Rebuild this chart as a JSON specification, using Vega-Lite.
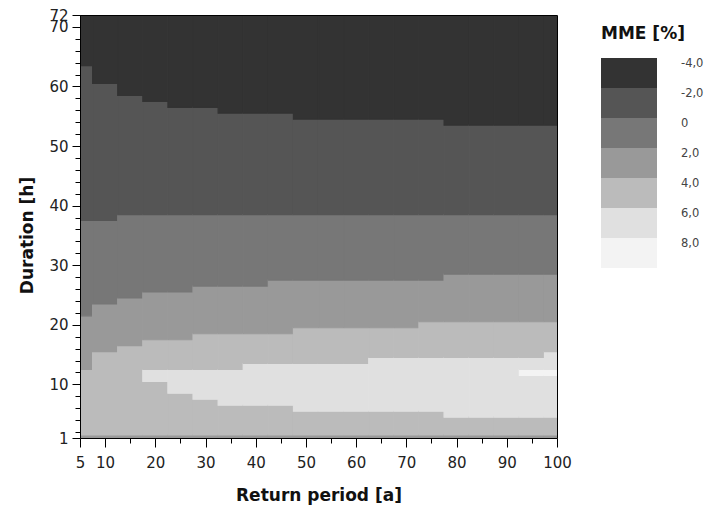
{
  "$schema": "https://vega.github.io/schema/vega-lite/v6.json",
  "autosize": "none",
  "width": 477,
  "height": 423,
  "padding": {"left": 80, "top": 15, "right": 155, "bottom": 73},
  "background": "white",
  "data": {"values": [
    {"rp0":5,"rp1":7.5,"d0":1,"d1":1.5,"mme":"2,0"},
    {"rp0":5,"rp1":7.5,"d0":1.5,"d1":12.5,"mme":"4,0"},
    {"rp0":5,"rp1":7.5,"d0":12.5,"d1":21.5,"mme":"2,0"},
    {"rp0":5,"rp1":7.5,"d0":21.5,"d1":37.5,"mme":"0"},
    {"rp0":5,"rp1":7.5,"d0":37.5,"d1":63.5,"mme":"-2,0"},
    {"rp0":5,"rp1":7.5,"d0":63.5,"d1":72,"mme":"-4,0"},

    {"rp0":7.5,"rp1":12.5,"d0":1,"d1":1.5,"mme":"2,0"},
    {"rp0":7.5,"rp1":12.5,"d0":1.5,"d1":15.5,"mme":"4,0"},
    {"rp0":7.5,"rp1":12.5,"d0":15.5,"d1":23.5,"mme":"2,0"},
    {"rp0":7.5,"rp1":12.5,"d0":23.5,"d1":37.5,"mme":"0"},
    {"rp0":7.5,"rp1":12.5,"d0":37.5,"d1":60.5,"mme":"-2,0"},
    {"rp0":7.5,"rp1":12.5,"d0":60.5,"d1":72,"mme":"-4,0"},

    {"rp0":12.5,"rp1":17.5,"d0":1,"d1":1.5,"mme":"2,0"},
    {"rp0":12.5,"rp1":17.5,"d0":1.5,"d1":16.5,"mme":"4,0"},
    {"rp0":12.5,"rp1":17.5,"d0":16.5,"d1":24.5,"mme":"2,0"},
    {"rp0":12.5,"rp1":17.5,"d0":24.5,"d1":38.5,"mme":"0"},
    {"rp0":12.5,"rp1":17.5,"d0":38.5,"d1":58.5,"mme":"-2,0"},
    {"rp0":12.5,"rp1":17.5,"d0":58.5,"d1":72,"mme":"-4,0"},

    {"rp0":17.5,"rp1":22.5,"d0":1,"d1":1.5,"mme":"2,0"},
    {"rp0":17.5,"rp1":22.5,"d0":1.5,"d1":10.5,"mme":"4,0"},
    {"rp0":17.5,"rp1":22.5,"d0":10.5,"d1":12.5,"mme":"6,0"},
    {"rp0":17.5,"rp1":22.5,"d0":12.5,"d1":17.5,"mme":"4,0"},
    {"rp0":17.5,"rp1":22.5,"d0":17.5,"d1":25.5,"mme":"2,0"},
    {"rp0":17.5,"rp1":22.5,"d0":25.5,"d1":38.5,"mme":"0"},
    {"rp0":17.5,"rp1":22.5,"d0":38.5,"d1":57.5,"mme":"-2,0"},
    {"rp0":17.5,"rp1":22.5,"d0":57.5,"d1":72,"mme":"-4,0"},

    {"rp0":22.5,"rp1":27.5,"d0":1,"d1":1.5,"mme":"2,0"},
    {"rp0":22.5,"rp1":27.5,"d0":1.5,"d1":8.5,"mme":"4,0"},
    {"rp0":22.5,"rp1":27.5,"d0":8.5,"d1":12.5,"mme":"6,0"},
    {"rp0":22.5,"rp1":27.5,"d0":12.5,"d1":17.5,"mme":"4,0"},
    {"rp0":22.5,"rp1":27.5,"d0":17.5,"d1":25.5,"mme":"2,0"},
    {"rp0":22.5,"rp1":27.5,"d0":25.5,"d1":38.5,"mme":"0"},
    {"rp0":22.5,"rp1":27.5,"d0":38.5,"d1":56.5,"mme":"-2,0"},
    {"rp0":22.5,"rp1":27.5,"d0":56.5,"d1":72,"mme":"-4,0"},

    {"rp0":27.5,"rp1":32.5,"d0":1,"d1":1.5,"mme":"2,0"},
    {"rp0":27.5,"rp1":32.5,"d0":1.5,"d1":7.5,"mme":"4,0"},
    {"rp0":27.5,"rp1":32.5,"d0":7.5,"d1":12.5,"mme":"6,0"},
    {"rp0":27.5,"rp1":32.5,"d0":12.5,"d1":18.5,"mme":"4,0"},
    {"rp0":27.5,"rp1":32.5,"d0":18.5,"d1":26.5,"mme":"2,0"},
    {"rp0":27.5,"rp1":32.5,"d0":26.5,"d1":38.5,"mme":"0"},
    {"rp0":27.5,"rp1":32.5,"d0":38.5,"d1":56.5,"mme":"-2,0"},
    {"rp0":27.5,"rp1":32.5,"d0":56.5,"d1":72,"mme":"-4,0"},

    {"rp0":32.5,"rp1":37.5,"d0":1,"d1":1.5,"mme":"2,0"},
    {"rp0":32.5,"rp1":37.5,"d0":1.5,"d1":6.5,"mme":"4,0"},
    {"rp0":32.5,"rp1":37.5,"d0":6.5,"d1":12.5,"mme":"6,0"},
    {"rp0":32.5,"rp1":37.5,"d0":12.5,"d1":18.5,"mme":"4,0"},
    {"rp0":32.5,"rp1":37.5,"d0":18.5,"d1":26.5,"mme":"2,0"},
    {"rp0":32.5,"rp1":37.5,"d0":26.5,"d1":38.5,"mme":"0"},
    {"rp0":32.5,"rp1":37.5,"d0":38.5,"d1":55.5,"mme":"-2,0"},
    {"rp0":32.5,"rp1":37.5,"d0":55.5,"d1":72,"mme":"-4,0"},

    {"rp0":37.5,"rp1":42.5,"d0":1,"d1":1.5,"mme":"2,0"},
    {"rp0":37.5,"rp1":42.5,"d0":1.5,"d1":6.5,"mme":"4,0"},
    {"rp0":37.5,"rp1":42.5,"d0":6.5,"d1":13.5,"mme":"6,0"},
    {"rp0":37.5,"rp1":42.5,"d0":13.5,"d1":18.5,"mme":"4,0"},
    {"rp0":37.5,"rp1":42.5,"d0":18.5,"d1":26.5,"mme":"2,0"},
    {"rp0":37.5,"rp1":42.5,"d0":26.5,"d1":38.5,"mme":"0"},
    {"rp0":37.5,"rp1":42.5,"d0":38.5,"d1":55.5,"mme":"-2,0"},
    {"rp0":37.5,"rp1":42.5,"d0":55.5,"d1":72,"mme":"-4,0"},

    {"rp0":42.5,"rp1":47.5,"d0":1,"d1":1.5,"mme":"2,0"},
    {"rp0":42.5,"rp1":47.5,"d0":1.5,"d1":6.5,"mme":"4,0"},
    {"rp0":42.5,"rp1":47.5,"d0":6.5,"d1":13.5,"mme":"6,0"},
    {"rp0":42.5,"rp1":47.5,"d0":13.5,"d1":18.5,"mme":"4,0"},
    {"rp0":42.5,"rp1":47.5,"d0":18.5,"d1":27.5,"mme":"2,0"},
    {"rp0":42.5,"rp1":47.5,"d0":27.5,"d1":38.5,"mme":"0"},
    {"rp0":42.5,"rp1":47.5,"d0":38.5,"d1":55.5,"mme":"-2,0"},
    {"rp0":42.5,"rp1":47.5,"d0":55.5,"d1":72,"mme":"-4,0"},

    {"rp0":47.5,"rp1":52.5,"d0":1,"d1":1.5,"mme":"2,0"},
    {"rp0":47.5,"rp1":52.5,"d0":1.5,"d1":5.5,"mme":"4,0"},
    {"rp0":47.5,"rp1":52.5,"d0":5.5,"d1":13.5,"mme":"6,0"},
    {"rp0":47.5,"rp1":52.5,"d0":13.5,"d1":19.5,"mme":"4,0"},
    {"rp0":47.5,"rp1":52.5,"d0":19.5,"d1":27.5,"mme":"2,0"},
    {"rp0":47.5,"rp1":52.5,"d0":27.5,"d1":38.5,"mme":"0"},
    {"rp0":47.5,"rp1":52.5,"d0":38.5,"d1":54.5,"mme":"-2,0"},
    {"rp0":47.5,"rp1":52.5,"d0":54.5,"d1":72,"mme":"-4,0"},

    {"rp0":52.5,"rp1":57.5,"d0":1,"d1":1.5,"mme":"2,0"},
    {"rp0":52.5,"rp1":57.5,"d0":1.5,"d1":5.5,"mme":"4,0"},
    {"rp0":52.5,"rp1":57.5,"d0":5.5,"d1":13.5,"mme":"6,0"},
    {"rp0":52.5,"rp1":57.5,"d0":13.5,"d1":19.5,"mme":"4,0"},
    {"rp0":52.5,"rp1":57.5,"d0":19.5,"d1":27.5,"mme":"2,0"},
    {"rp0":52.5,"rp1":57.5,"d0":27.5,"d1":38.5,"mme":"0"},
    {"rp0":52.5,"rp1":57.5,"d0":38.5,"d1":54.5,"mme":"-2,0"},
    {"rp0":52.5,"rp1":57.5,"d0":54.5,"d1":72,"mme":"-4,0"},

    {"rp0":57.5,"rp1":62.5,"d0":1,"d1":1.5,"mme":"2,0"},
    {"rp0":57.5,"rp1":62.5,"d0":1.5,"d1":5.5,"mme":"4,0"},
    {"rp0":57.5,"rp1":62.5,"d0":5.5,"d1":13.5,"mme":"6,0"},
    {"rp0":57.5,"rp1":62.5,"d0":13.5,"d1":19.5,"mme":"4,0"},
    {"rp0":57.5,"rp1":62.5,"d0":19.5,"d1":27.5,"mme":"2,0"},
    {"rp0":57.5,"rp1":62.5,"d0":27.5,"d1":38.5,"mme":"0"},
    {"rp0":57.5,"rp1":62.5,"d0":38.5,"d1":54.5,"mme":"-2,0"},
    {"rp0":57.5,"rp1":62.5,"d0":54.5,"d1":72,"mme":"-4,0"},

    {"rp0":62.5,"rp1":67.5,"d0":1,"d1":1.5,"mme":"2,0"},
    {"rp0":62.5,"rp1":67.5,"d0":1.5,"d1":5.5,"mme":"4,0"},
    {"rp0":62.5,"rp1":67.5,"d0":5.5,"d1":14.5,"mme":"6,0"},
    {"rp0":62.5,"rp1":67.5,"d0":14.5,"d1":19.5,"mme":"4,0"},
    {"rp0":62.5,"rp1":67.5,"d0":19.5,"d1":27.5,"mme":"2,0"},
    {"rp0":62.5,"rp1":67.5,"d0":27.5,"d1":38.5,"mme":"0"},
    {"rp0":62.5,"rp1":67.5,"d0":38.5,"d1":54.5,"mme":"-2,0"},
    {"rp0":62.5,"rp1":67.5,"d0":54.5,"d1":72,"mme":"-4,0"},

    {"rp0":67.5,"rp1":72.5,"d0":1,"d1":1.5,"mme":"2,0"},
    {"rp0":67.5,"rp1":72.5,"d0":1.5,"d1":5.5,"mme":"4,0"},
    {"rp0":67.5,"rp1":72.5,"d0":5.5,"d1":14.5,"mme":"6,0"},
    {"rp0":67.5,"rp1":72.5,"d0":14.5,"d1":19.5,"mme":"4,0"},
    {"rp0":67.5,"rp1":72.5,"d0":19.5,"d1":27.5,"mme":"2,0"},
    {"rp0":67.5,"rp1":72.5,"d0":27.5,"d1":38.5,"mme":"0"},
    {"rp0":67.5,"rp1":72.5,"d0":38.5,"d1":54.5,"mme":"-2,0"},
    {"rp0":67.5,"rp1":72.5,"d0":54.5,"d1":72,"mme":"-4,0"},

    {"rp0":72.5,"rp1":77.5,"d0":1,"d1":1.5,"mme":"2,0"},
    {"rp0":72.5,"rp1":77.5,"d0":1.5,"d1":5.5,"mme":"4,0"},
    {"rp0":72.5,"rp1":77.5,"d0":5.5,"d1":14.5,"mme":"6,0"},
    {"rp0":72.5,"rp1":77.5,"d0":14.5,"d1":20.5,"mme":"4,0"},
    {"rp0":72.5,"rp1":77.5,"d0":20.5,"d1":27.5,"mme":"2,0"},
    {"rp0":72.5,"rp1":77.5,"d0":27.5,"d1":38.5,"mme":"0"},
    {"rp0":72.5,"rp1":77.5,"d0":38.5,"d1":54.5,"mme":"-2,0"},
    {"rp0":72.5,"rp1":77.5,"d0":54.5,"d1":72,"mme":"-4,0"},

    {"rp0":77.5,"rp1":82.5,"d0":1,"d1":1.5,"mme":"2,0"},
    {"rp0":77.5,"rp1":82.5,"d0":1.5,"d1":4.5,"mme":"4,0"},
    {"rp0":77.5,"rp1":82.5,"d0":4.5,"d1":14.5,"mme":"6,0"},
    {"rp0":77.5,"rp1":82.5,"d0":14.5,"d1":20.5,"mme":"4,0"},
    {"rp0":77.5,"rp1":82.5,"d0":20.5,"d1":28.5,"mme":"2,0"},
    {"rp0":77.5,"rp1":82.5,"d0":28.5,"d1":38.5,"mme":"0"},
    {"rp0":77.5,"rp1":82.5,"d0":38.5,"d1":53.5,"mme":"-2,0"},
    {"rp0":77.5,"rp1":82.5,"d0":53.5,"d1":72,"mme":"-4,0"},

    {"rp0":82.5,"rp1":87.5,"d0":1,"d1":1.5,"mme":"2,0"},
    {"rp0":82.5,"rp1":87.5,"d0":1.5,"d1":4.5,"mme":"4,0"},
    {"rp0":82.5,"rp1":87.5,"d0":4.5,"d1":14.5,"mme":"6,0"},
    {"rp0":82.5,"rp1":87.5,"d0":14.5,"d1":20.5,"mme":"4,0"},
    {"rp0":82.5,"rp1":87.5,"d0":20.5,"d1":28.5,"mme":"2,0"},
    {"rp0":82.5,"rp1":87.5,"d0":28.5,"d1":38.5,"mme":"0"},
    {"rp0":82.5,"rp1":87.5,"d0":38.5,"d1":53.5,"mme":"-2,0"},
    {"rp0":82.5,"rp1":87.5,"d0":53.5,"d1":72,"mme":"-4,0"},

    {"rp0":87.5,"rp1":92.5,"d0":1,"d1":1.5,"mme":"2,0"},
    {"rp0":87.5,"rp1":92.5,"d0":1.5,"d1":4.5,"mme":"4,0"},
    {"rp0":87.5,"rp1":92.5,"d0":4.5,"d1":14.5,"mme":"6,0"},
    {"rp0":87.5,"rp1":92.5,"d0":14.5,"d1":20.5,"mme":"4,0"},
    {"rp0":87.5,"rp1":92.5,"d0":20.5,"d1":28.5,"mme":"2,0"},
    {"rp0":87.5,"rp1":92.5,"d0":28.5,"d1":38.5,"mme":"0"},
    {"rp0":87.5,"rp1":92.5,"d0":38.5,"d1":53.5,"mme":"-2,0"},
    {"rp0":87.5,"rp1":92.5,"d0":53.5,"d1":72,"mme":"-4,0"},

    {"rp0":92.5,"rp1":97.5,"d0":1,"d1":1.5,"mme":"2,0"},
    {"rp0":92.5,"rp1":97.5,"d0":1.5,"d1":4.5,"mme":"4,0"},
    {"rp0":92.5,"rp1":97.5,"d0":4.5,"d1":11.5,"mme":"6,0"},
    {"rp0":92.5,"rp1":97.5,"d0":11.5,"d1":12.5,"mme":"8,0"},
    {"rp0":92.5,"rp1":97.5,"d0":12.5,"d1":14.5,"mme":"6,0"},
    {"rp0":92.5,"rp1":97.5,"d0":14.5,"d1":20.5,"mme":"4,0"},
    {"rp0":92.5,"rp1":97.5,"d0":20.5,"d1":28.5,"mme":"2,0"},
    {"rp0":92.5,"rp1":97.5,"d0":28.5,"d1":38.5,"mme":"0"},
    {"rp0":92.5,"rp1":97.5,"d0":38.5,"d1":53.5,"mme":"-2,0"},
    {"rp0":92.5,"rp1":97.5,"d0":53.5,"d1":72,"mme":"-4,0"},

    {"rp0":97.5,"rp1":100,"d0":1,"d1":1.5,"mme":"2,0"},
    {"rp0":97.5,"rp1":100,"d0":1.5,"d1":4.5,"mme":"4,0"},
    {"rp0":97.5,"rp1":100,"d0":4.5,"d1":11.5,"mme":"6,0"},
    {"rp0":97.5,"rp1":100,"d0":11.5,"d1":12.5,"mme":"8,0"},
    {"rp0":97.5,"rp1":100,"d0":12.5,"d1":15.5,"mme":"6,0"},
    {"rp0":97.5,"rp1":100,"d0":15.5,"d1":20.5,"mme":"4,0"},
    {"rp0":97.5,"rp1":100,"d0":20.5,"d1":28.5,"mme":"2,0"},
    {"rp0":97.5,"rp1":100,"d0":28.5,"d1":38.5,"mme":"0"},
    {"rp0":97.5,"rp1":100,"d0":38.5,"d1":53.5,"mme":"-2,0"},
    {"rp0":97.5,"rp1":100,"d0":53.5,"d1":72,"mme":"-4,0"}
  ]},
  "layer": [
    {
      "mark": {"type": "rect", "strokeWidth": 1.1, "strokeOpacity": 1, "opacity": 1, "clip": true},
      "encoding": {
        "x": {"field": "rp0", "type": "quantitative",
          "scale": {"domain": [5, 100], "nice": false, "zero": false},
          "axis": {"title": "Return period [a]", "orient": "bottom",
            "values": [5, 10, 20, 30, 40, 50, 60, 70, 80, 90, 100],
            "tickSize": 9, "labelPadding": 8, "labelFlush": false, "labelOverlap": false,
            "titleY": 49, "zindex": 2}},
        "x2": {"field": "rp1"},
        "y": {"field": "d0", "type": "quantitative",
          "scale": {"domain": [1, 72], "nice": false, "zero": false},
          "axis": {"title": "Duration [h]", "orient": "left",
            "values": [1, 10, 20, 30, 40, 50, 60, 70, 72],
            "tickSize": 8, "labelPadding": 4, "labelFlush": false, "labelOverlap": false,
            "titleAngle": 270, "titleBaseline": "alphabetic", "titleAlign": "center",
            "titleX": -48, "titleY": 220, "zindex": 2}},
        "y2": {"field": "d1"},
        "color": {"field": "mme", "type": "nominal",
          "scale": {"domain": ["-4,0", "-2,0", "0", "2,0", "4,0", "6,0", "8,0"],
                    "range": ["#333333", "#555555", "#777777", "#999999", "#bbbbbb", "#e0e0e0", "#f3f3f3"]},
          "legend": {"title": "MME [%]", "orient": "none", "legendX": 521, "legendY": 11,
            "padding": 0, "direction": "vertical",
            "symbolType": "M-3.1111,-1H3.1111V2.3333H-3.1111Z", "symbolSize": 324,
            "symbolStrokeWidth": 0, "symbolOffset": 19, "symbolOpacity": 1,
            "labelOffset": 43, "labelBaseline": "alphabetic", "labelFont": "DejaVu Sans",
            "labelFontSize": 11.5, "labelColor": "#444444", "rowPadding": 0,
            "titleFont": "DejaVu Sans", "titleFontSize": 17, "titleFontWeight": "bold",
            "titleColor": "#111111", "titlePadding": 15}},
        "stroke": {"field": "mme", "type": "nominal",
          "scale": {"domain": ["-4,0", "-2,0", "0", "2,0", "4,0", "6,0", "8,0"],
                    "range": ["#333333", "#555555", "#777777", "#999999", "#bbbbbb", "#e0e0e0", "#f3f3f3"]},
          "legend": null}
      }
    },
    {
      "mark": {"type": "point", "opacity": 0},
      "encoding": {
        "x": {"field": "rp0", "type": "quantitative",
          "scale": {"domain": [5, 100], "nice": false, "zero": false},
          "axis": {"orient": "bottom", "values": [15, 25, 35, 45, 55, 65, 75, 85, 95],
            "tickSize": 5, "labels": false, "domain": false, "title": null, "zindex": 2}},
        "y": {"field": "d0", "type": "quantitative",
          "scale": {"domain": [1, 72], "nice": false, "zero": false},
          "axis": {"orient": "left",
            "values": [2, 4, 6, 8, 12, 14, 16, 18, 22, 24, 26, 28, 32, 34, 36, 38, 42, 44, 46, 48, 52, 54, 56, 58, 62, 64, 66, 68],
            "tickSize": 5, "labels": false, "domain": false, "title": null, "zindex": 2}}
      }
    },
    {
      "mark": {"type": "point", "opacity": 0},
      "encoding": {
        "x": {"field": "rp0", "type": "quantitative",
          "scale": {"domain": [5, 100], "nice": false, "zero": false},
          "axis": {"orient": "top", "ticks": false, "labels": false, "domain": true, "title": null, "zindex": 2}},
        "y": {"field": "d0", "type": "quantitative",
          "scale": {"domain": [1, 72], "nice": false, "zero": false},
          "axis": {"orient": "right", "ticks": false, "labels": false, "domain": true, "title": null, "zindex": 2}}
      }
    }
  ],
  "resolve": {"axis": {"x": "independent", "y": "independent"}},
  "config": {
    "font": "DejaVu Sans",
    "view": {"stroke": null},
    "axis": {"domainColor": "#000000", "domainWidth": 1, "tickColor": "#000000", "tickWidth": 1,
      "labelFont": "DejaVu Sans", "labelFontSize": 15, "labelColor": "#222222",
      "titleFont": "DejaVu Sans", "titleFontSize": 17, "titleFontWeight": "bold",
      "titleColor": "#111111", "grid": false}
  }
}
